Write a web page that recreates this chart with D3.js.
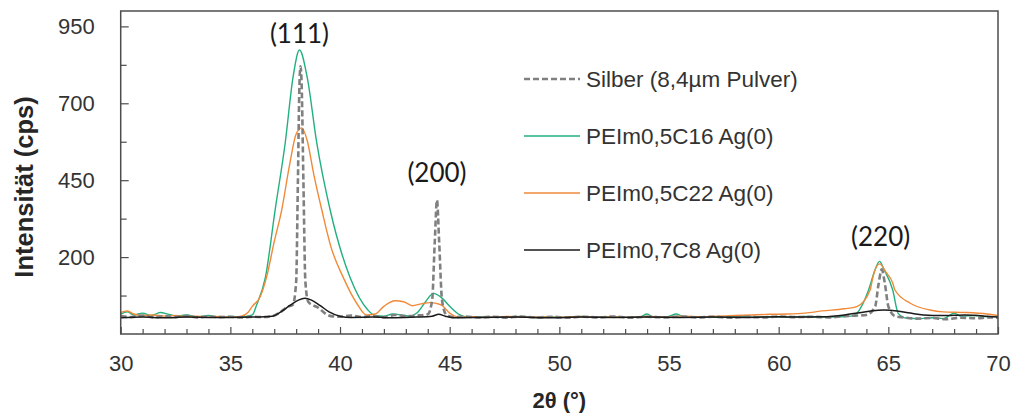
<!DOCTYPE html>
<html>
<head>
<meta charset="utf-8">
<script src="https://cdn.jsdelivr.net/npm/d3@7"></script>
<style>
  html, body { margin: 0; padding: 0; background: #fff; }
  svg { display: block; }
</style>
</head>
<body>
<svg id="chart" width="1012" height="417"></svg>
<script>
// X-ray diffraction patterns: 2θ in degrees, intensity in counts per second
const silverTheta = [30, 30.5, 31, 31.5, 32, 32.5, 33, 33.5, 34, 34.5, 35, 35.5, 36, 36.5, 37, 37.3, 37.6, 37.85, 38.0, 38.08, 38.15, 38.2, 38.25, 38.33, 38.42, 38.55, 38.8, 39.0, 39.3, 39.6, 40, 40.5, 41, 41.5, 42, 42.5, 43, 43.5, 44.0, 44.2, 44.32, 44.42, 44.52, 44.65, 44.85, 45.2, 45.7, 46.3, 47, 47.6, 48.2, 49, 49.7, 50.4, 51, 51.8, 52.5, 53.2, 54, 54.8, 55.5, 56.3, 57, 57.8, 58.5, 59.3, 60, 60.8, 61.5, 62.3, 63, 63.6, 64.0, 64.4, 64.55, 64.7, 64.85, 65.0, 65.3, 65.7, 66.3, 67, 67.6, 68.3, 69, 69.6, 70];
const silverCps = [8, 5, 10, 4, 8, 5, 9, 4, 7, 5, 6, 4, 6, 5, 10, 22, 38, 45, 120, 450, 760, 820, 760, 450, 120, 55, 42, 36, 18, 8, 6, 10, 5, 8, 4, 12, 8, 10, 14, 60, 250, 385, 250, 60, 12, 5, 7, 4, 6, 3, 7, 4, 6, 3, 6, 4, 7, 3, 6, 4, 7, 4, 6, 3, 6, 4, 7, 5, 6, 4, 8, 10, 12, 40, 110, 160, 110, 40, 8, 4, 0, 2, -2, 3, 1, 4, 3];

const c16Theta = [30, 30.3, 30.6, 31, 31.4, 31.8, 32.2, 32.6, 33, 33.5, 34, 34.5, 35, 35.5, 36.0, 36.2, 36.6, 37.04, 37.5, 37.86, 38.15, 38.5, 38.94, 39.55, 40.45, 41.27, 41.6, 42, 42.4, 42.8, 43.2, 43.5, 43.9, 44.26, 44.6, 45.0, 45.47, 45.8, 46.5, 47.2, 48, 48.8, 49.5, 50.3, 51, 51.8, 52.5, 53.2, 53.7, 54, 54.3, 54.9, 55.35, 55.7, 56.4, 57.2, 58, 58.8, 59.6, 60.4, 61.2, 62, 62.8, 63.3, 63.56, 64.1, 64.4, 64.6, 64.8, 65.2, 65.45, 65.8, 66.5, 67, 67.5, 68, 68.3, 69, 69.5, 70];
const c16Cps = [15, 22, 12, 18, 10, 20, 14, 8, 12, 6, 10, 5, 7, 5, 12, 45, 135, 353, 571, 786, 873, 786, 571, 353, 135, 28, 10, 8, 15, 12, 8, 18, 55, 82, 70, 40, 12, 5, 6, 4, 7, 5, 6, 4, 7, 5, 6, 4, 6, 15, 5, 6, 15, 5, 6, 4, 7, 5, 6, 4, 7, 5, 6, 8, 17, 93, 160, 186, 160, 93, 17, 2, 0, 3, 0, 18, 8, 10, 6, 8];

const c22Theta = [30, 30.3, 30.6, 31, 31.5, 32, 32.5, 33, 33.5, 34, 34.5, 35, 35.5, 35.8, 36.0, 36.36, 36.65, 37.0, 37.34, 37.7, 38.0, 38.25, 38.5, 38.8, 39.17, 39.6, 40.14, 40.76, 41.2, 41.6, 42.0, 42.5, 42.9, 43.3, 43.7, 44.1, 44.6, 45.0, 45.4, 46, 46.8, 47.6, 48.4, 49.2, 50, 50.8, 51.6, 52.4, 53.2, 54, 54.8, 55.6, 56.4, 57.2, 58, 58.8, 59.6, 60.4, 61.2, 62, 63, 63.56, 64.17, 64.3, 64.6, 64.9, 65.2, 65.3, 66.0, 66.9, 67.5, 68.5, 69.5, 70];
const c22Cps = [20, 25, 15, 10, 12, 8, 10, 6, 8, 5, 7, 5, 8, 20, 40, 71, 135, 250, 353, 500, 600, 620, 580, 470, 353, 230, 135, 50, 12, 15, 40, 58, 55, 42, 48, 52, 45, 18, 5, 6, 4, 7, 5, 6, 4, 7, 5, 6, 4, 7, 5, 8, 6, 8, 10, 12, 14, 15, 18, 25, 32, 39, 93, 136, 178, 150, 116, 93, 50, 28, 22, 20, 15, 10];

const c8Theta = [30, 31, 32, 33, 34, 35, 36, 36.9, 37.3, 37.7, 38.1, 38.4, 38.7, 39.1, 39.5, 40, 40.5, 41.5, 42.5, 43.5, 44.2, 44.5, 44.8, 45.2, 46.5, 48, 49.5, 51, 52.5, 54, 55.5, 57, 58.5, 60, 61, 62, 63, 63.6, 64.2, 64.8, 65.4, 66, 66.6, 67.5, 68.5, 69.5, 70];
const c8Cps = [3, 5, 3, 5, 4, 4, 5, 8, 22, 42, 60, 66, 60, 42, 22, 8, 4, 5, 3, 5, 8, 14, 8, 3, 4, 5, 3, 5, 4, 5, 4, 5, 4, 6, 5, 6, 12, 18, 25, 28, 25, 18, 12, 10, 12, 8, 5];

const seriesNames = ["Silber (8,4µm Pulver)", "PEIm0,5C16 Ag(0)", "PEIm0,5C22 Ag(0)", "PEIm0,7C8 Ag(0)"];
const xTickValues = [30, 35, 40, 45, 50, 55, 60, 65, 70];
const yTickValues = [950, 700, 450, 200];
const yMinorTickValues = [75, 325, 575, 825];
const reflexLabels = ["(111)", "(200)", "(220)"];
const reflexTheta = [38.15, 44.42, 64.65];
const reflexCps = [873, 385, 186];

const svg = d3.select("#chart");
const plotLeft = 120.7, plotRight = 998, plotTop = 11, plotBottom = 334;

const x = d3.scaleLinear().domain([30, 70]).range([plotLeft, plotRight]);
const y = d3.scaleLinear().domain([-50, 1000]).range([plotBottom, plotTop]);

const series = [
  { name: seriesNames[1], theta: c16Theta, cps: c16Cps, color: "#22b07c", width: 1.4, dash: null },
  { name: seriesNames[2], theta: c22Theta, cps: c22Cps, color: "#f08a38", width: 1.4, dash: null },
  { name: seriesNames[0], theta: silverTheta, cps: silverCps, color: "#808080", width: 2.6, dash: "6,3" },
  { name: seriesNames[3], theta: c8Theta, cps: c8Cps, color: "#1a1a1a", width: 1.5, dash: null }
];

// curves
const line = d3.line().x(d => x(d[0])).y(d => y(d[1])).curve(d3.curveMonotoneX);
svg.append("defs").append("clipPath").attr("id", "plotClip")
  .append("rect").attr("x", plotLeft).attr("y", plotTop).attr("width", plotRight - plotLeft).attr("height", plotBottom - plotTop);
const curves = svg.append("g").attr("clip-path", "url(#plotClip)");
series.forEach(s => {
  curves.append("path")
    .datum(d3.zip(s.theta, s.cps))
    .attr("fill", "none")
    .attr("stroke", s.color)
    .attr("stroke-width", s.width)
    .attr("stroke-dasharray", s.dash)
    .attr("stroke-linejoin", "round")
    .attr("d", line);
});

// plot frame
svg.append("rect")
  .attr("x", plotLeft).attr("y", plotTop).attr("width", plotRight - plotLeft).attr("height", plotBottom - plotTop)
  .attr("fill", "none").attr("stroke", "#4d4d4d").attr("stroke-width", 1.5);

const tickFont = "'Liberation Sans', Arial, sans-serif";

// x axis: major ticks with labels, minor ticks every degree
const xMinor = svg.append("g").attr("transform", `translate(0,${plotBottom})`)
  .call(d3.axisBottom(x).tickValues(d3.range(31, 70).filter(v => v % 5 !== 0)).tickSizeInner(-5).tickSizeOuter(0).tickFormat(""));
const xMajor = svg.append("g").attr("transform", `translate(0,${plotBottom})`)
  .call(d3.axisBottom(x).tickValues(xTickValues).tickSizeInner(-7).tickSizeOuter(0).tickPadding(21).tickFormat(d3.format("d")));

// y axis
const yMinor = svg.append("g").attr("transform", `translate(${plotLeft},0)`)
  .call(d3.axisLeft(y).tickValues(yMinorTickValues).tickSizeInner(-6).tickSizeOuter(0).tickFormat(""));
const yMajor = svg.append("g").attr("transform", `translate(${plotLeft},0)`)
  .call(d3.axisLeft(y).tickValues(yTickValues).tickSizeInner(-8).tickSizeOuter(0).tickPadding(26).tickFormat(d3.format("d")));

[xMinor, xMajor, yMinor, yMajor].forEach(g => {
  g.select(".domain").remove();
  g.selectAll(".tick line").attr("stroke", "#4d4d4d").attr("stroke-width", 1.2);
  g.selectAll(".tick text").attr("fill", "#333").style("font-family", tickFont).style("font-size", "22px");
});

// axis titles
svg.append("text")
  .attr("x", (plotLeft + plotRight) / 2).attr("y", 408)
  .attr("text-anchor", "middle")
  .style("font-family", tickFont).style("font-weight", "bold").style("font-size", "22px")
  .attr("fill", "#262626")
  .text("2θ (°)");
svg.append("text")
  .attr("transform", "translate(33,187) rotate(-90)")
  .attr("text-anchor", "middle")
  .style("font-family", tickFont).style("font-weight", "bold").style("font-size", "25.5px")
  .attr("fill", "#262626")
  .text("Intensität (cps)");

// reflex labels above the peaks
const labelOffset = [7, 18, 15];
reflexLabels.forEach((t, i) => {
  svg.append("text")
    .attr("x", x(reflexTheta[i]))
    .attr("y", y(reflexCps[i]) - labelOffset[i])
    .attr("text-anchor", "middle")
    .style("font-family", "Lato, 'Open Sans', sans-serif").style("font-size", "26px")
    .attr("fill", "#1a1a1a")
    .text(t);
});

// legend
const legendRows = [
  { s: series[2], yy: 79 },
  { s: series[0], yy: 136 },
  { s: series[1], yy: 193 },
  { s: series[3], yy: 250 }
];
const legend = svg.append("g");
legendRows.forEach(r => {
  legend.append("line")
    .attr("x1", 524).attr("x2", 580).attr("y1", r.yy).attr("y2", r.yy)
    .attr("stroke", r.s.color).attr("stroke-width", r.s.dash ? 2.6 : 1.5)
    .attr("stroke-dasharray", r.s.dash);
  legend.append("text")
    .attr("x", 586).attr("y", r.yy).attr("dy", "0.35em")
    .style("font-family", tickFont).style("font-size", "22.5px")
    .attr("fill", "#333")
    .text(r.s.name);
});
</script>
</body>
</html>
